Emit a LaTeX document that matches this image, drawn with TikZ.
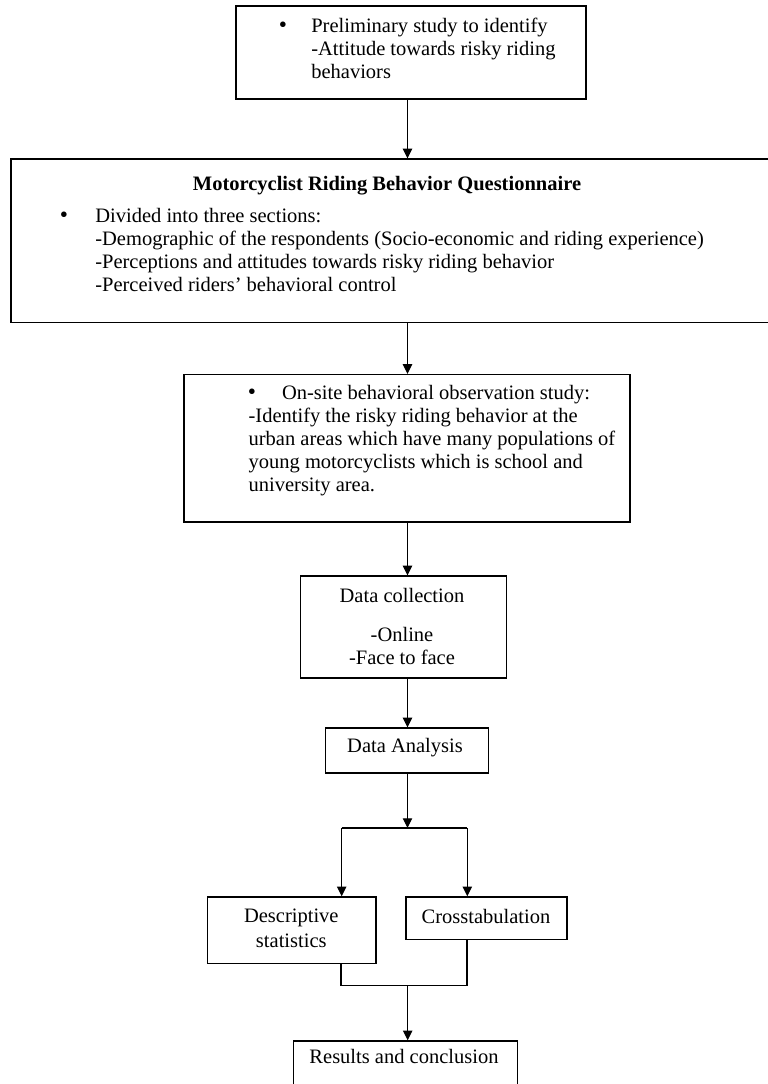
\documentclass[tikz,border=0pt]{standalone}
\usepackage{fontspec}
\setmainfont{Liberation Serif}
\usetikzlibrary{arrows.meta,fit}
\tikzset{
  box/.style={draw=black, line width=0.8pt, inner sep=0pt},
  arr/.style={line width=0.65pt, -{Triangle[length=5.8pt,width=5.6pt]}},
  ln/.style={line width=0.65pt},
  t/.style={inner sep=0pt, anchor=base west},
  tc/.style={inner sep=0pt, anchor=base},
  bul/.style={inner sep=0pt, anchor=base, font=\fontsize{14}{14}\selectfont},
}
\begin{document}
\begin{tikzpicture}[x=0.6pt,y=-0.6pt,font=\fontsize{12.3}{13.8}\selectfont]
\useasboundingbox (0,0) rectangle (768,1084);
\clip (0,0) rectangle (768,1084);
\fill[white] (0,0) rectangle (768,1084);

% boxes
\node[box, fit={(236,6) (586,99)}] (b1) {};
\node[box, fit={(11,159) (774,322.5)}] (b2) {};
\node[box, fit={(184,374.5) (630,522)}] (b3) {};
\node[box, fit={(300.7,576) (506.7,678)}] (b4) {};
\node[box, fit={(325.7,728) (488.7,773)}] (b5) {};
\node[box, fit={(207.3,897) (376,963.3)}] (b6) {};
\node[box, fit={(406,897) (567,939.3)}] (b7) {};
\node[box, fit={(293.3,1041) (517.3,1110)}] (b8) {};

% box 1 text
\node[bul] (b1bul) at (283,32.5) {\textbullet};
\node[t] (b1l1) at (311,32.5) {Preliminary study to identify};
\node[t] (b1l2) at (311,55.5) {-Attitude towards risky riding};
\node[t] (b1l3) at (311,78.5) {behaviors};

% box 2 text
\node[tc] (b2title) at (387,190) {\bfseries Motorcyclist Riding Behavior Questionnaire};
\node[bul] (b2bul) at (64,222.6) {\textbullet};
\node[t] (b2l1) at (95,222.6) {Divided into three sections:};
\node[t] (b2l2) at (95,245.6) {-Demographic of the respondents (Socio-economic and riding experience)};
\node[t] (b2l3) at (95,268.6) {-Perceptions and attitudes towards risky riding behavior};
\node[t] (b2l4) at (95,291.6) {-Perceived riders’ behavioral control};

% box 3 text
\node[bul] (b3bul) at (252,399.6) {\textbullet};
\node[t] (b3l1) at (281.7,399.6) {On-site behavioral observation study:};
\node[t] (b3l2) at (248.3,422.6) {-Identify the risky riding behavior at the};
\node[t] (b3l3) at (248.3,445.6) {urban areas which have many populations of};
\node[t] (b3l4) at (248.3,468.6) {young motorcyclists which is school and};
\node[t] (b3l5) at (248.3,491.6) {university area.};

% box 4 text
\node[tc] (b4l1) at (402,602.6) {Data collection};
\node[tc] (b4l2) at (402,641.6) {-Online};
\node[tc] (b4l3) at (402,664.6) {-Face to face};

% other texts
\node[tc] (b5l1) at (405,752.6) {Data Analysis};
\node[tc] (b6l1) at (291.3,922.6) {Descriptive};
\node[tc] (b6l2) at (291.3,947.6) {statistics};
\node[tc] (b7l1) at (486,923.6) {Crosstabulation};
\node[tc] (b8l1) at (404,1063.6) {Results and conclusion};

% connectors
\coordinate (ax) at (407.5,0);
\draw[arr] (ax |- b1.south) -- (ax |- b2.north);
\draw[arr] (ax |- b2.south) -- (ax |- b3.north);
\draw[arr] (ax |- b3.south) -- (ax |- b4.north);
\draw[arr] (ax |- b4.south) -- (ax |- b5.north);

\coordinate (split) at (407.5,828);
\coordinate (sl) at (341.7,828);
\coordinate (sr) at (467.3,828);
\draw[arr] (ax |- b5.south) -- (split);
\draw[ln] (sl) -- (sr);
\draw[arr] (sl) -- (sl |- b6.north);
\draw[arr] (sr) -- (sr |- b7.north);

\coordinate (ml) at (341,985.7);
\coordinate (mr) at (467,985.7);
\coordinate (mm) at (407.7,985.7);
\draw[ln] (ml |- b6.south) -- (ml) -- (mr) -- (mr |- b7.south);
\draw[arr] (mm) -- (mm |- b8.north);
\end{tikzpicture}
\end{document}
